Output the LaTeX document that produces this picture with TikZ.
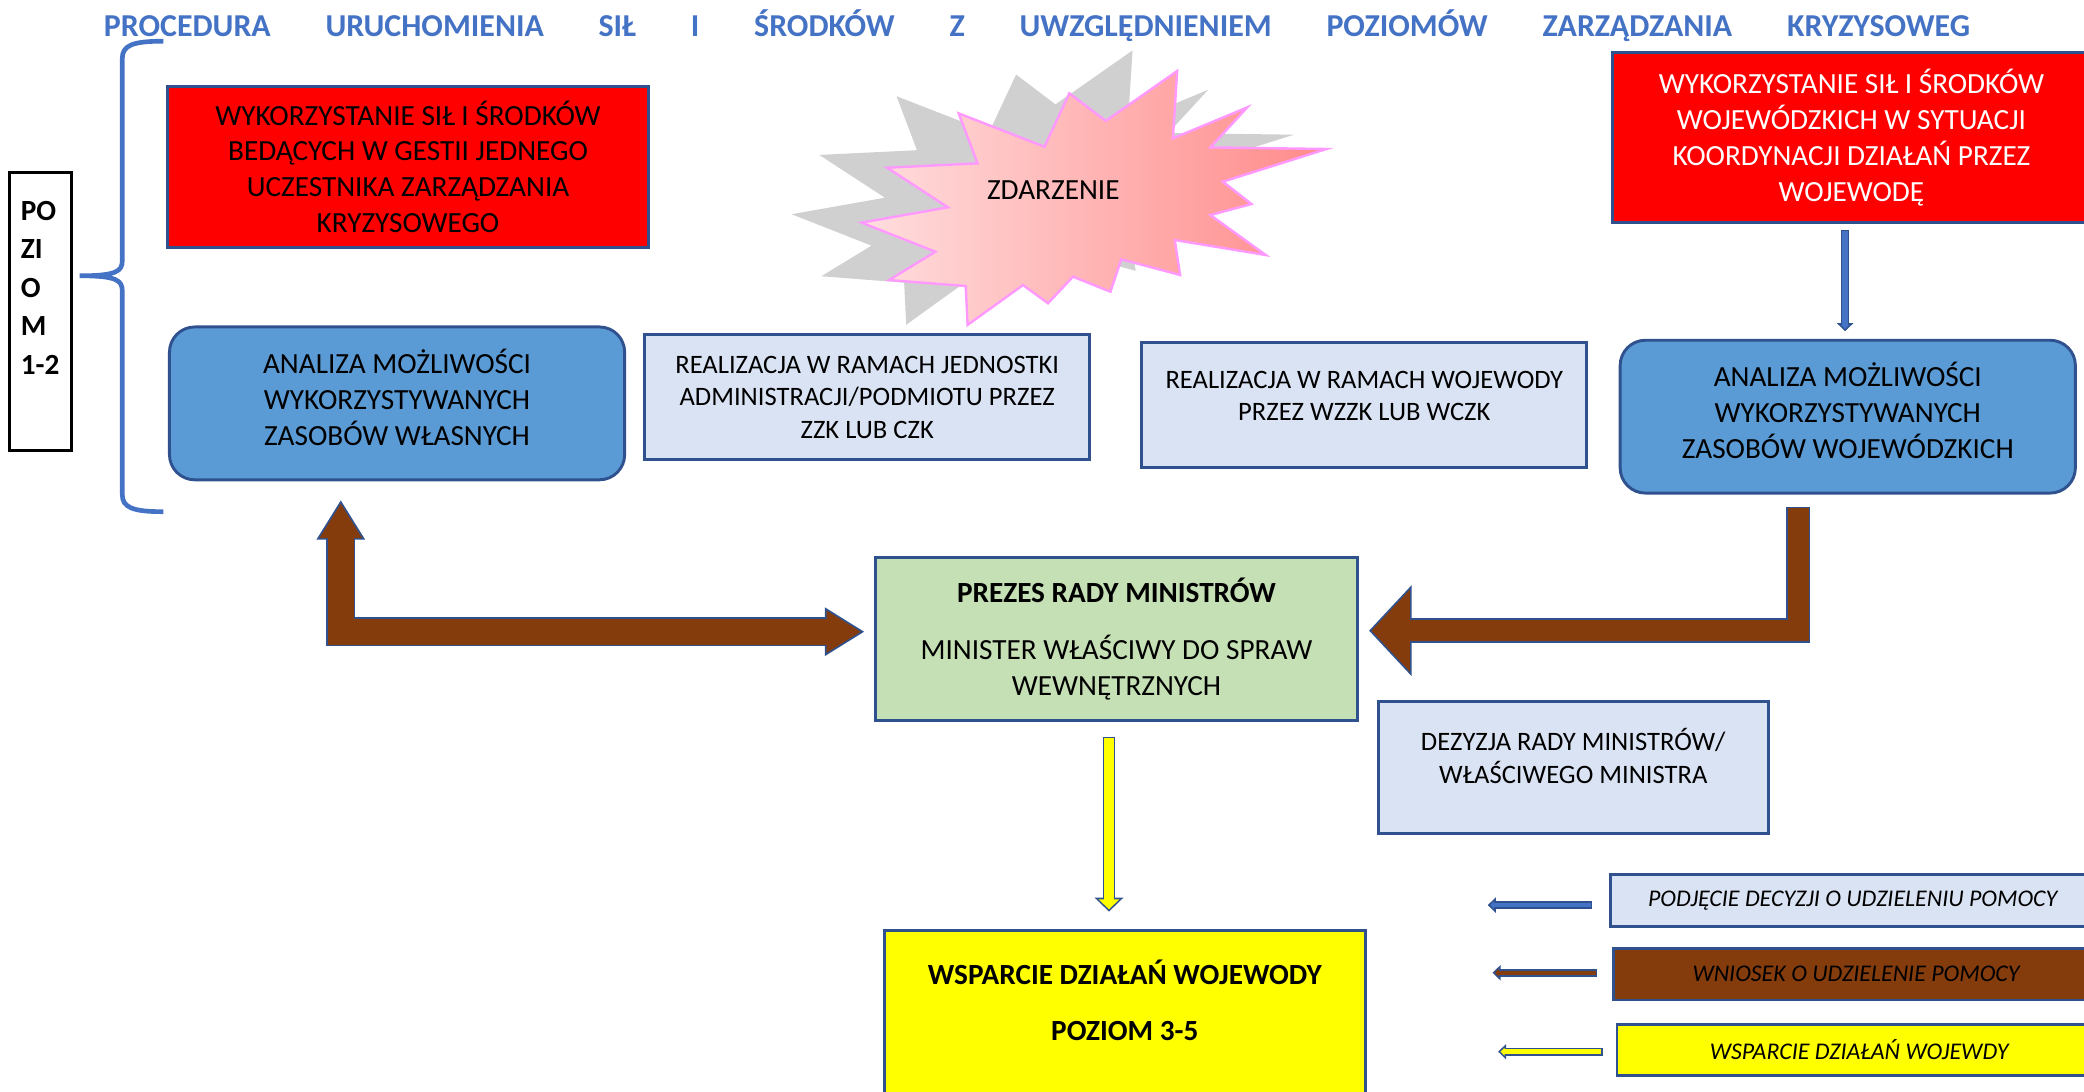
\documentclass[tikz,border=0pt]{standalone}
\usepackage{fontspec}
\setmainfont{Carlito}
\usetikzlibrary{arrows.meta}

\definecolor{titleblue}{HTML}{4472C4}
\definecolor{boxline}{HTML}{2F528F}
\definecolor{alarmred}{HTML}{FF0000}
\definecolor{analizablue}{HTML}{5B9BD5}
\definecolor{paleblue}{HTML}{DAE3F3}
\definecolor{ministergreen}{HTML}{C5E0B4}
\definecolor{requestbrown}{HTML}{843C0C}
\definecolor{supportyellow}{HTML}{FFFF00}
\definecolor{shadowgray}{HTML}{D0D0D0}
\definecolor{starline}{HTML}{FF99FF}
\definecolor{starleft}{HTML}{FFDEDE}
\definecolor{starright}{HTML}{FF8A8A}

% outline of the event explosion, around its own centre
\newcommand{\eventstarpath}{(-101.7,-63.7) -- (-37.2,-38.6) -- (-18.4,-78.8) -- (9,-58) -- (62.7,-95.6) -- (59.5,-44.9) -- (115.4,-68.2) -- (87.7,-38.1) -- (175.1,-36.9) -- (97.1,-12.3) -- (118.6,4.5) -- (87.7,12.8) -- (129.4,42.9) -- (60.9,31.6) -- (64.9,57.9) -- (20.6,46.1) -- (12.5,70.5) -- (-15.7,59.2) -- (-34.5,79.2) -- (-53.3,65.5) -- (-95,95.5) -- (-96.4,66.2) -- (-154.1,61.7) -- (-119.2,40.4) -- (-174.8,18.5) -- (-109.8,7) -- (-155.5,-22.8) -- (-87.5,-26.1) -- cycle}

\begin{document}
\begin{tikzpicture}[x=1pt, y=-1pt,
    box/.style={draw=boxline, line width=2.2pt, align=center, inner sep=0pt},
    redbox/.style={box, fill=alarmred, font=\fontsize{22}{27}\selectfont},
    analizabox/.style={box, fill=analizablue, rounded corners=19pt, minimum width=342.5pt, minimum height=115pt, font=\fontsize{22}{27}\selectfont},
    palebox/.style={box, fill=paleblue, minimum width=335pt, minimum height=94pt, font=\fontsize{20}{24.5}\selectfont},
    ministerbox/.style={box, fill=ministergreen, minimum width=362.7pt, minimum height=122.7pt, font=\fontsize{22}{27}\selectfont},
    supportbox/.style={box, fill=supportyellow, minimum width=361.5pt, minimum height=140pt, font=\bfseries\fontsize{22}{27}\selectfont},
    legendbox/.style={box, minimum width=364.4pt, minimum height=38.8pt, font=\itshape\fontsize{18}{22}\selectfont},
    levelbox/.style={draw=black, line width=2.2pt, fill=white, align=left, inner sep=0pt, minimum width=46.5pt, minimum height=209pt, font=\bfseries\fontsize{22}{29}\selectfont},
    titletext/.style={text=titleblue, inner sep=0pt, font=\bfseries\fontsize{24}{29}\selectfont},
    eventtext/.style={inner sep=0pt, font=\fontsize{22}{27}\selectfont},
    arrowedge/.style={draw=boxline, line join=miter}
  ]
    \useasboundingbox (0,0) rectangle (1568,821);
    \clip (0,0) rectangle (1568,821);

    % Title across the top
    \node[titletext, anchor=base west] (title) at (78,27.5) {\makebox[1404pt][s]{PROCEDURA URUCHOMIENIA SIŁ I ŚRODKÓW Z UWZGLĘDNIENIEM POZIOMÓW ZARZĄDZANIA KRYZYSOWEG}};

    % Level 1-2 marker with its brace
    \node[levelbox] (poziom) at (30.25,234.5) {PO\\ZI\\O\\M\\1-2\\[7.2pt]\mbox{}};
    \draw[titleblue, line width=3.5pt] (123,31) .. controls (100,31) and (92,34) .. (92,44) -- (92,196) .. controls (92,204) and (88,207.5) .. (60,207.5) .. controls (88,207.5) and (92,211) .. (92,219) -- (92,372) .. controls (92,382) and (100,385) .. (123,385);

    % Event explosion with its grey shadow
    \fill[shadowgray, shift={(784.4,141.2)}, scale=1.08] \eventstarpath;
    \path[draw=starline, line width=1.8pt, left color=starleft, right color=starright, shift={(823,149)}] \eventstarpath;
    \node[eventtext] (zdarzenie) at (792.5,143) {ZDARZENIE};

    % Red boxes
    \node[redbox, minimum width=362pt, minimum height=121pt] (redlocal) at (307,125.5) {WYKORZYSTANIE SIŁ I ŚRODKÓW\\BEDĄCYCH W GESTII JEDNEGO\\UCZESTNIKA ZARZĄDZANIA\\KRYZYSOWEGO};
    \node[redbox, text=white, minimum width=360pt, minimum height=128pt] (redwoj) at (1393,103.5) {WYKORZYSTANIE SIŁ I ŚRODKÓW\\WOJEWÓDZKICH W SYTUACJI\\KOORDYNACJI DZIAŁAŃ PRZEZ\\WOJEWODĘ};

    % Analysis and realisation row
    \node[analizabox] (localanaliza) at (298.75,303.5) {ANALIZA MOŻLIWOŚCI\\WYKORZYSTYWANYCH\\ZASOBÓW WŁASNYCH\\[-17.4pt]\mbox{}};
    \node[palebox] (realjedn) at (652.5,299) {REALIZACJA W RAMACH JEDNOSTKI\\ADMINISTRACJI/PODMIOTU PRZEZ\\ZZK LUB CZK};
    \node[palebox] (realwoj) at (1026.5,305) {REALIZACJA W RAMACH WOJEWODY\\PRZEZ WZZK LUB WCZK\\[-10.1pt]\mbox{}};
    \node[analizabox] (wojanaliza) at (1390.25,313.5) {ANALIZA MOŻLIWOŚCI\\WYKORZYSTYWANYCH\\ZASOBÓW WOJEWÓDZKICH\\[-17.4pt]\mbox{}};

    % Government level
    \node[ministerbox] (prezes) at (840,481) {\textbf{PREZES RADY MINISTRÓW}\\[15.6pt]MINISTER WŁAŚCIWY DO SPRAW\\WEWNĘTRZNYCH};
    \node[palebox, minimum width=293.4pt, minimum height=99pt] (dezyzja) at (1183.7,577.5) {DEZYZJA RADY MINISTRÓW/\\WŁAŚCIWEGO MINISTRA\\[-7.3pt]\mbox{}};
    \node[supportbox] (wsparcie) at (846.3,770) {WSPARCIE DZIAŁAŃ WOJEWODY\\[15.6pt]POZIOM 3-5\\[8pt]\mbox{}};

    % Legend
    \node[legendbox, fill=paleblue] (legdecyzja) at (1394,677.6) {PODJĘCIE DECYZJI O UDZIELENIU POMOCY};
    \node[legendbox, fill=requestbrown] (legwniosek) at (1396.5,733) {WNIOSEK O UDZIELENIE POMOCY};
    \node[legendbox, fill=supportyellow] (legwsparcie) at (1398.8,790) {WSPARCIE DZIAŁAŃ WOJEWDY};

    % Wide brown arrows (outline first, fill on top)
    \draw[arrowedge, line width=18.5pt, -{Triangle[length=32pt,width=66.5pt]}] ([xshift=135pt,yshift=-9pt]wojanaliza.south west) |- ([xshift=7.6pt,yshift=6.5pt]prezes.east);
    \draw[requestbrown, line join=miter, line width=15.9pt, -{Triangle[length=28.9pt,width=60.1pt]}, shorten <=1.3pt, shorten >=1.8pt] ([xshift=135pt,yshift=-9pt]wojanaliza.south west) |- ([xshift=7.6pt,yshift=6.5pt]prezes.east);

    \draw[arrowedge, line width=22pt, {Triangle[length=30pt,width=34.5pt]}-{Triangle[length=30pt,width=34.5pt]}] ([xshift=130pt,yshift=-14pt]localanaliza.south west) |- ([xshift=-7pt,yshift=5.7pt]prezes.west);
    \draw[requestbrown, line join=miter, line width=19.4pt, {Triangle[length=26.1pt,width=30pt]}-{Triangle[length=26.1pt,width=30pt]}, shorten <=2.6pt, shorten >=2.6pt] ([xshift=130pt,yshift=-14pt]localanaliza.south west) |- ([xshift=-7pt,yshift=5.7pt]prezes.west);

    % Narrow arrows
    \draw[arrowedge, line width=6.5pt, -{Triangle[length=6pt,width=12pt]}] ([xshift=-2pt,yshift=-4.3pt]wojanaliza.north |- redwoj.south) -- ([xshift=-2pt,yshift=5.7pt]wojanaliza.north);
    \draw[titleblue, line width=4.1pt, -{Triangle[length=3.1pt,width=6.2pt]}, shorten <=1.2pt, shorten >=1.7pt] ([xshift=-2pt,yshift=-4.3pt]wojanaliza.north |- redwoj.south) -- ([xshift=-2pt,yshift=5.7pt]wojanaliza.north);

    \draw[arrowedge, line width=9.3pt, -{Triangle[length=10.5pt,width=21pt]}] ([xshift=-5.6pt,yshift=-10.7pt]prezes.south) -- ([xshift=-5.6pt,yshift=13pt]prezes.south |- wsparcie.north);
    \draw[supportyellow, line width=6.9pt, -{Triangle[length=7.6pt,width=15.2pt]}, shorten <=1.2pt, shorten >=1.7pt] ([xshift=-5.6pt,yshift=-10.7pt]prezes.south) -- ([xshift=-5.6pt,yshift=13pt]prezes.south |- wsparcie.north);

    % Legend arrows
    \foreach \leg/\fillc/\dy/\gap in {legdecyzja/titleblue/-3.4/12.6, legwniosek/requestbrown/1.1/11.5, legwsparcie/supportyellow/-1.3/9.6} {
      \draw[arrowedge, line width=5.8pt, -{Triangle[length=6pt,width=11.3pt]}] ([xshift={-\gap*1pt}, yshift={\dy*1pt}]\leg.west) -- ([xshift={-(\gap+78.7)*1pt}, yshift={\dy*1pt}]\leg.west);
      \draw[\fillc, line width=3.4pt, -{Triangle[length=3.05pt,width=5.7pt]}, shorten <=1.2pt, shorten >=1.75pt] ([xshift={-\gap*1pt}, yshift={\dy*1pt}]\leg.west) -- ([xshift={-(\gap+78.7)*1pt}, yshift={\dy*1pt}]\leg.west);
    }
\end{tikzpicture}
\end{document}
